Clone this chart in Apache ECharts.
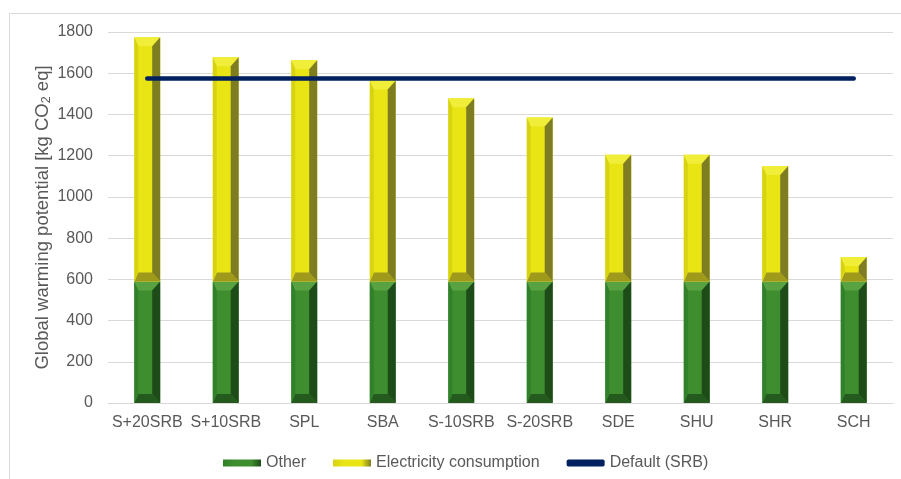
<!DOCTYPE html>
<html>
<head>
<meta charset="utf-8">
<script src="https://cdn.jsdelivr.net/npm/echarts@6/dist/echarts.min.js"></script>
<style>
  html, body { margin: 0; padding: 0; background: #ffffff; }
  #chart { width: 901px; height: 479px; }
</style>
</head>
<body>
<div id="chart"></div>
<script>
// Scenario names along the x axis
var categories = ['S+20SRB', 'S+10SRB', 'SPL', 'SBA', 'S-10SRB', 'S-20SRB', 'SDE', 'SHU', 'SHR', 'SCH'];
// GWP contributions, kg CO2 eq
var otherValues = [590, 590, 590, 590, 590, 590, 590, 590, 590, 590];
var electricityValues = [1185, 1088, 1073, 975, 888, 795, 615, 615, 560, 118];
// Reference level of the default scenario
var defaultValues = [1575, 1575, 1575, 1575, 1575, 1575, 1575, 1575, 1575, 1575];
// Y axis ticks
var yTicks = { min: 0, max: 1800, interval: 200 };

// Facet colours for the bevelled columns
var greenFacets = { face: '#3e8e2f', top: '#58a242', left: '#31802a', right: '#1e4c19', bottom: '#255a1e' };
var yellowFacets = { face: '#e9e515', top: '#f1ee3a', left: '#d7d311', right: '#7f7d22', bottom: '#9f9a1c' };

function bevelBar(pal) {
  return function (params, api) {
    var idx = api.value(0);
    var lo = api.coord([idx, api.value(1)]);
    var hi = api.coord([idx, api.value(2)]);
    var w = api.size([1, 0])[0] * 0.33;
    var x0 = lo[0] - w / 2, x1 = lo[0] + w / 2;
    var yt = hi[1], yb = lo[1];
    var h = yb - yt;
    var bv = Math.min(9, h / 2);
    var bl = 4, br = 8;
    function poly(pts, c) {
      return { type: 'polygon', shape: { points: pts }, style: { fill: c } };
    }
    return {
      type: 'group',
      children: [
        { type: 'rect', shape: { x: x0, y: yt, width: w, height: h }, style: { fill: pal.face } },
        poly([[x0, yt], [x1, yt], [x1 - br, yt + bv], [x0 + bl, yt + bv]], pal.top),
        poly([[x0, yb], [x1, yb], [x1 - br, yb - bv], [x0 + bl, yb - bv]], pal.bottom),
        poly([[x0, yt], [x0 + bl, yt + bv], [x0 + bl, yb - bv], [x0, yb]], pal.left),
        poly([[x1, yt], [x1 - br, yt + bv], [x1 - br, yb - bv], [x1, yb]], pal.right)
      ]
    };
  };
}

var otherData = categories.map(function (c, i) { return [i, 0, otherValues[i]]; });
var elecData = categories.map(function (c, i) { return [i, otherValues[i], otherValues[i] + electricityValues[i]]; });

function legendGradient(pal) {
  return new echarts.graphic.LinearGradient(0, 0, 1, 0, [
    { offset: 0, color: pal.left },
    { offset: 0.3, color: pal.face },
    { offset: 0.75, color: pal.face },
    { offset: 1, color: pal.right }
  ]);
}

var chart = echarts.init(document.getElementById('chart'), null, { renderer: 'canvas' });
chart.setOption({
  animation: false,
  backgroundColor: '#ffffff',
  textStyle: { fontFamily: 'Liberation Sans, Arial, sans-serif' },
  graphic: [{
    type: 'rect', left: 7, top: 11,
    shape: { x: 0, y: 0, width: 900, height: 480 },
    style: { fill: 'none', stroke: '#d9d9d9', lineWidth: 1 },
    z: -1
  }],
  grid: { left: 108, right: 8, top: 32, bottom: 76 },
  legend: {
    left: 218, top: 450,
    itemWidth: 38, itemHeight: 7, itemGap: 27,
    textStyle: { color: '#595959', fontSize: 16 },
    data: [
      { name: 'Other', icon: 'rect', itemStyle: { color: legendGradient(greenFacets) } },
      { name: 'Electricity consumption', icon: 'rect', itemStyle: { color: legendGradient(yellowFacets) } },
      { name: 'Default (SRB)', icon: 'roundRect', itemStyle: { color: '#002060' } }
    ]
  },
  xAxis: {
    type: 'category',
    data: categories,
    axisLine: { lineStyle: { color: '#d9d9d9' } },
    axisTick: { show: false },
    axisLabel: { color: '#595959', fontSize: 16, margin: 12, interval: 0 }
  },
  yAxis: {
    type: 'value',
    min: yTicks.min, max: yTicks.max, interval: yTicks.interval,
    name: 'Global warming potential [kg CO{sub|2} eq]',
    nameLocation: 'middle', nameGap: 55, nameMoveOverlap: false,
    nameTextStyle: {
      color: '#595959', fontSize: 18.5,
      rich: { sub: { fontSize: 12.5, color: '#595959', padding: [7, 0, 0, 0] } }
    },
    axisLabel: { color: '#595959', fontSize: 16, margin: 15, formatter: function (v) { return String(v); } },
    splitLine: { lineStyle: { color: '#d9d9d9' } }
  },
  series: [
    {
      name: 'Other', type: 'custom', data: otherData,
      encode: { x: 0, y: [1, 2] },
      itemStyle: { color: greenFacets.face },
      renderItem: bevelBar(greenFacets)
    },
    {
      name: 'Electricity consumption', type: 'custom', data: elecData,
      encode: { x: 0, y: [1, 2] },
      itemStyle: { color: yellowFacets.face },
      renderItem: bevelBar(yellowFacets)
    },
    {
      name: 'Default (SRB)', type: 'line', data: defaultValues,
      showSymbol: false, symbol: 'none', z: 5,
      itemStyle: { color: '#002060' },
      lineStyle: { color: '#002060', width: 4.5, cap: 'round' }
    }
  ]
});
</script>
</body>
</html>
